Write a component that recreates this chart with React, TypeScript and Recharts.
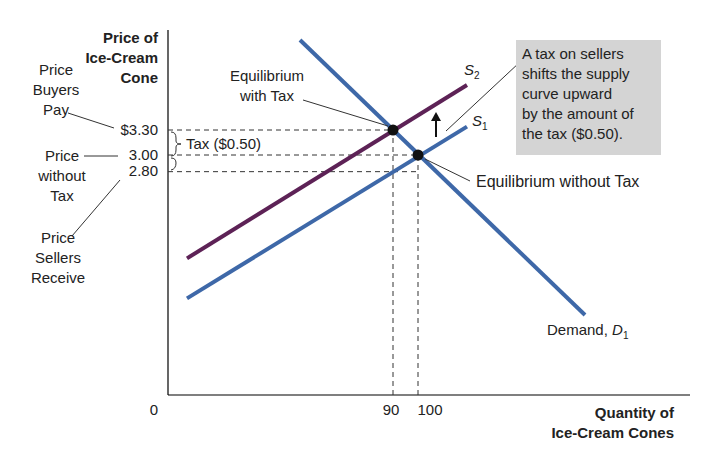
import React from "react"
import { ComposedChart, Line, XAxis, YAxis, ReferenceLine, Scatter } from "recharts"

document.body.style.margin = "0"

// demand and supply endpoints (quantity, price)
const demand = [{ q: 52.8, p: 4.38 }, { q: 166.8, p: 1.08 }]
const supply1 = [{ q: 7.6, p: 1.28 }, { q: 119.6, p: 3.34 }]
const supply2 = [{ q: 7.6, p: 1.76 }, { q: 119.6, p: 3.84 }]
const equilibria = [{ q: 90, p: 3.3 }, { q: 100, p: 3.0 }]
const priceTicks = ["$3.30", "3.00", "2.80"]
const quantityTicks = ["0", "90", "100"]

const font = "'Liberation Sans', Arial, sans-serif"
const blue = "#3e68a8"
const purple = "#5d2256"

const T = ({ x, y, children, align = "left", bold = false, size = 15 }: any) => (
  <div style={{
    position: "absolute", left: x, top: y, fontFamily: font, fontSize: size, lineHeight: "20px",
    fontWeight: bold ? "bold" : "normal", textAlign: align, whiteSpace: "pre", color: "#222",
    transform: align === "right" ? "translateX(-100%)" : align === "center" ? "translateX(-50%)" : undefined,
  }}>{children}</div>
)

export default function App() {
  const dash = "5 4"
  return (
    <div style={{ position: "relative", width: 706, height: 468 }}>
      <ComposedChart width={706} height={468} margin={{ top: 30, right: 16, left: 168, bottom: 73 }}>
        <XAxis type="number" dataKey="q" domain={[0, 208.8]} hide />
        <YAxis type="number" dataKey="p" domain={[0.12, 4.5]} hide />
        <ReferenceLine x={0} stroke="#000" strokeWidth={1.2} />
        <ReferenceLine y={0.12} stroke="#000" strokeWidth={1.2} />
        <ReferenceLine segment={[{ x: 0, y: 3.3 }, { x: 90, y: 3.3 }]} stroke="#333" strokeDasharray={dash} />
        <ReferenceLine segment={[{ x: 0, y: 3.0 }, { x: 100, y: 3.0 }]} stroke="#333" strokeDasharray={dash} />
        <ReferenceLine segment={[{ x: 0, y: 2.8 }, { x: 100, y: 2.8 }]} stroke="#333" strokeDasharray={dash} />
        <ReferenceLine segment={[{ x: 90, y: 0.12 }, { x: 90, y: 3.3 }]} stroke="#333" strokeDasharray={dash} />
        <ReferenceLine segment={[{ x: 100, y: 0.12 }, { x: 100, y: 3.0 }]} stroke="#333" strokeDasharray={dash} />
        <Line data={demand} dataKey="p" type="linear" stroke={blue} strokeWidth={4} dot={false} isAnimationActive={false} />
        <Line data={supply1} dataKey="p" type="linear" stroke={blue} strokeWidth={4} dot={false} isAnimationActive={false} />
        <Line data={supply2} dataKey="p" type="linear" stroke={purple} strokeWidth={4} dot={false} isAnimationActive={false} />
        <Scatter data={equilibria} dataKey="p" fill="#111" shape={(pr: any) => <circle cx={pr.cx} cy={pr.cy} r={5.5} fill="#111" />} isAnimationActive={false} />
      </ComposedChart>
      <svg width={706} height={468} style={{ position: "absolute", left: 0, top: 0, pointerEvents: "none" }}>
        <g stroke="#333" strokeWidth={1} fill="none">
          <line x1={68} y1={113} x2={114} y2={128} />
          <line x1={84} y1={156} x2={118} y2={156} />
          <line x1={72} y1={236} x2={120} y2={180} />
          <line x1={303} y1={100} x2={388} y2={126} />
          <line x1={425} y1={159} x2={470} y2={181} />
          <line x1={520} y1={62} x2={446} y2={131} />
          <path d="M171 132 Q176 132 176 138 L176 141 Q176 144 181 144 Q176 144 176 147 L176 150 Q176 156 171 156" />
          <path d="M171 158 Q176 158 176 163 Q176 169 171 170" />
        </g>
        <line x1={436} y1={137} x2={436} y2={120} stroke="#111" strokeWidth={2} />
        <polygon points="431,121 436,112 441,121" fill="#111" />
        <rect x={516} y={40} width={145} height={115} fill="#d4d4d4" />
      </svg>
      <T x={158} y={28} align="right" bold>{"Price of\nIce-Cream\nCone"}</T>
      <T x={56} y={60} align="center">{"Price\nBuyers\nPay"}</T>
      <T x={62} y={146} align="center">{"Price\nwithout\nTax"}</T>
      <T x={58} y={228} align="center">{"Price\nSellers\nReceive"}</T>
      <T x={158} y={120} align="right">{priceTicks[0]}</T>
      <T x={158} y={145} align="right">{priceTicks[1]}</T>
      <T x={158} y={161} align="right">{priceTicks[2]}</T>
      <T x={186} y={134}>Tax ($0.50)</T>
      <T x={267} y={66} align="center">{"Equilibrium\nwith Tax"}</T>
      <T x={476} y={172} size={16}>Equilibrium without Tax</T>
      <T x={547} y={320}>Demand, <i>D</i><sub style={{ fontSize: 10 }}>1</sub></T>
      <T x={464} y={60}><i>S</i><sub style={{ fontSize: 10 }}>2</sub></T>
      <T x={472} y={111}><i>S</i><sub style={{ fontSize: 10 }}>1</sub></T>
      <T x={522} y={44}>{"A tax on sellers\nshifts the supply\ncurve upward\nby the amount of\nthe tax ($0.50)."}</T>
      <T x={154} y={400} align="center">{quantityTicks[0]}</T>
      <T x={391} y={400} align="center">{quantityTicks[1]}</T>
      <T x={430} y={400} align="center">{quantityTicks[2]}</T>
      <T x={674} y={403} align="right" bold>{"Quantity of\nIce-Cream Cones"}</T>
    </div>
  )
}
